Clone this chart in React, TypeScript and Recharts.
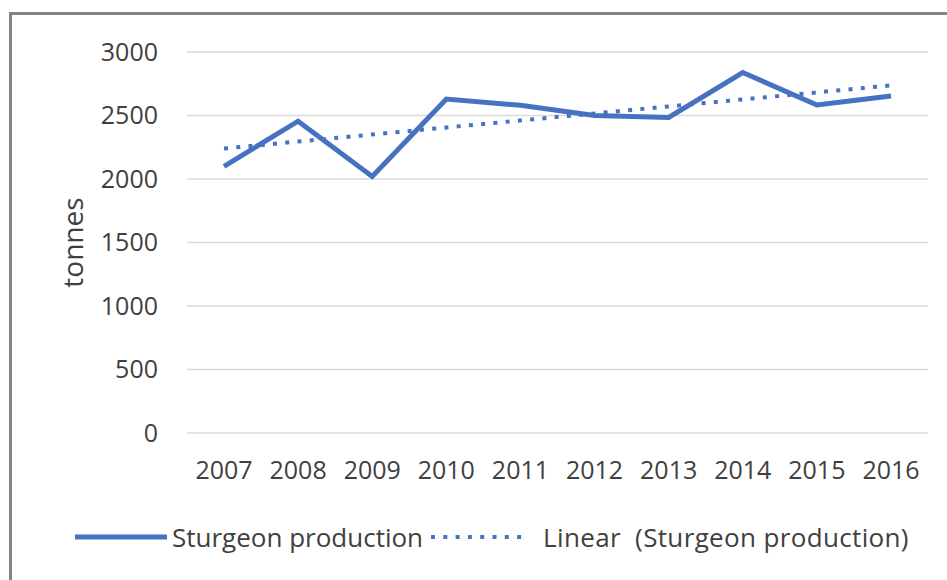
import React from 'react';
import { ComposedChart, Line, XAxis, YAxis, CartesianGrid, Legend } from 'recharts';

const years = ['2007', '2008', '2009', '2010', '2011', '2012', '2013', '2014', '2015', '2016'];
const production = [2100, 2455, 2020, 2630, 2580, 2500, 2485, 2838, 2583, 2654];
// Linear trend line: read at its two ends only
const trend: (number | null)[] = [2240, null, null, null, null, null, null, null, null, 2737];
const yTicks = [0, 500, 1000, 1500, 2000, 2500, 3000];

const data = years.map((y, i) => ({ year: y, production: production[i], trend: trend[i] }));

const FONT = '"Open Sans", "Noto Sans", sans-serif';
const BLUE = '#4672c1';
const TEXT = '#404040';

const renderLegend = () => (
  <div style={{ display: 'flex', alignItems: 'center', height: 34, fontFamily: FONT, fontSize: 26, color: TEXT, whiteSpace: 'pre' }}>
    <svg width={92} height={10} style={{ display: 'block' }}>
      <line x1={0} y1={5} x2={92} y2={5} stroke={BLUE} strokeWidth={5} />
    </svg>
    <span style={{ marginLeft: 5 }}>Sturgeon production</span>
    <svg width={94} height={10} style={{ display: 'block', marginLeft: 6 }}>
      <line x1={2} y1={5} x2={94} y2={5} stroke={BLUE} strokeWidth={4} strokeDasharray="4 8.3" />
    </svg>
    <span style={{ marginLeft: 20, letterSpacing: 0.35 }}>{'Linear  (Sturgeon production)'}</span>
  </div>
);

const TonnesLabel = (props: any) => {
  const vb = props.viewBox || {};
  const x = (vb.x ?? 0) + 83;
  const y = (vb.y ?? 0) + (vb.height ?? 0) / 2;
  return (
    <text
      x={x}
      y={y}
      transform={`rotate(-90, ${x}, ${y})`}
      textAnchor="middle"
      fill={TEXT}
      fontFamily={FONT}
      fontSize={28}
    >
      tonnes
    </text>
  );
};

export default function App() {
  return (
    <div style={{ position: 'absolute', left: 0, top: 0, width: 947, height: 580, overflow: 'hidden', background: '#fff' }}>
      <div
        style={{
          position: 'absolute',
          left: 9,
          top: 12,
          width: 1200,
          height: 900,
          border: '3px solid #858585',
          boxSizing: 'border-box',
        }}
      />
      <div style={{ position: 'absolute', left: 0, top: 0 }}>
        <ComposedChart width={947} height={580} data={data} margin={{ top: 52, right: 19, bottom: 83, left: 0 }}>
          <CartesianGrid vertical={false} stroke="#d9d9d9" strokeWidth={1.5} />
          <XAxis
            dataKey="year"
            height={30}
            axisLine={false}
            tickLine={false}
            tickMargin={22}
            interval={0}
            padding={{ left: 37, right: 37 }}
            tick={{ fill: TEXT, fontFamily: FONT, fontSize: 25 }}
          />
          <YAxis
            width={187}
            domain={[0, 3000]}
            ticks={yTicks}
            axisLine={false}
            tickLine={false}
            tickMargin={23}
            tick={{ fill: TEXT, fontFamily: FONT, fontSize: 25 }}
            label={<TonnesLabel />}
          />
          <Line
            dataKey="production"
            stroke={BLUE}
            strokeWidth={5}
            dot={false}
            isAnimationActive={false}
            strokeLinejoin="miter"
          />
          <Line
            dataKey="trend"
            stroke={BLUE}
            strokeWidth={4}
            strokeDasharray="4 8.3"
            dot={false}
            connectNulls
            isAnimationActive={false}
          />
          <Legend content={renderLegend} wrapperStyle={{ left: 75, top: 520, width: 'auto' }} />
        </ComposedChart>
      </div>
    </div>
  );
}
